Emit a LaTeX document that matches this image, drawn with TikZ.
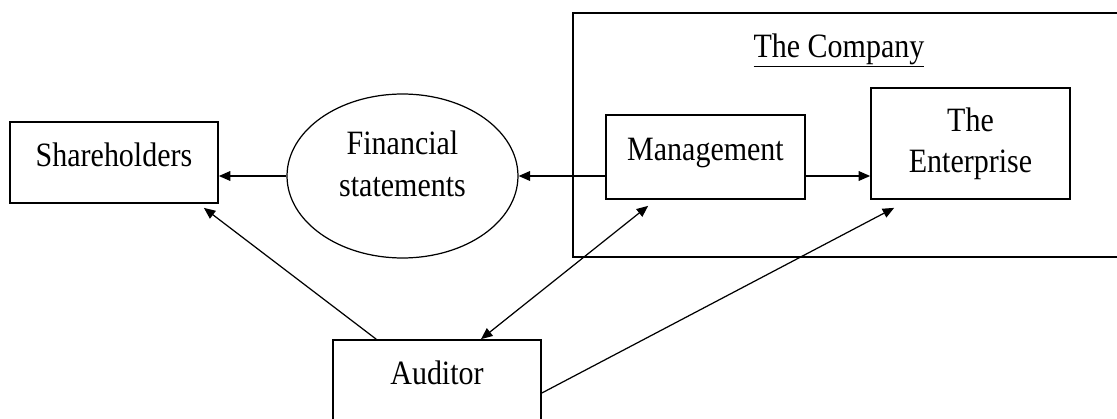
\documentclass[tikz,border=0pt]{standalone}
\usepackage{fontspec}
\setmainfont{Liberation Serif}[FakeStretch=0.88]
\usetikzlibrary{shapes.geometric,arrows.meta,positioning,calc}

\begin{document}
\begin{tikzpicture}[
      x=0.02cm,y=-0.02cm,
      font=\fontsize{19.4}{23.5}\selectfont,
      >={Triangle[length=6.5pt,width=5.5pt]},
      rbox/.style={rectangle,draw,line width=1pt,
                   minimum width=4.16cm,minimum height=1.62cm},
      box/.style={rbox,text height=12pt,text depth=8pt},
      oval/.style={ellipse,draw,line width=0.7pt,inner sep=0pt,
                   minimum width=4.62cm,minimum height=3.28cm},
      arr/.style={->,line width=0.7pt}
    ]
      \useasboundingbox (0,0) rectangle (1117,419);
      \clip (0,0) rectangle (1117,419);

      % the company frame runs off the right edge
      \node[rectangle,draw,line width=0.8pt,minimum width=11.34cm,
            minimum height=4.88cm] (company) at (856.5,135) {};
      \node[anchor=base] (complbl) at (839,57) {\underline{The Compan\smash{y}}};

      \node[box] (share) at (114,162.5) {Shareholders};
      \node[oval] (fin) at (402.5,176)
        {\raisebox{5pt}[\height][\depth]{\begin{tabular}{@{}c@{}}Financial\\statements\end{tabular}}};
      \node[box,minimum width=3.98cm,minimum height=1.68cm] (mgmt) at (705.5,157) {Management};
      \node[rbox,minimum width=3.98cm,minimum height=2.22cm,align=center] (ent) at (970.5,143.5) {The\\Enterprise};
      \node[box] (aud) at (437,380.5) {Auditor};

      \draw[arr] (fin.west) -- (fin.west -| share.east);
      \draw[arr] (mgmt.west |- fin.east) -- (fin.east);
      \draw[arr] (mgmt.east |- fin.east) -- (ent.west |- fin.east);
      \draw[arr] ($(aud.north west)+(44,0)$) -- ($(share.south east)+(-15,4)$);
      \draw[<->,line width=0.7pt] ($(aud.north)+(44,0)$) -- ($(mgmt.south west)+(43,6)$);
      \draw[arr] ($(aud.east)+(0,12.5)$) -- ($(ent.south west)+(24,8)$);
    \end{tikzpicture}
\end{document}
